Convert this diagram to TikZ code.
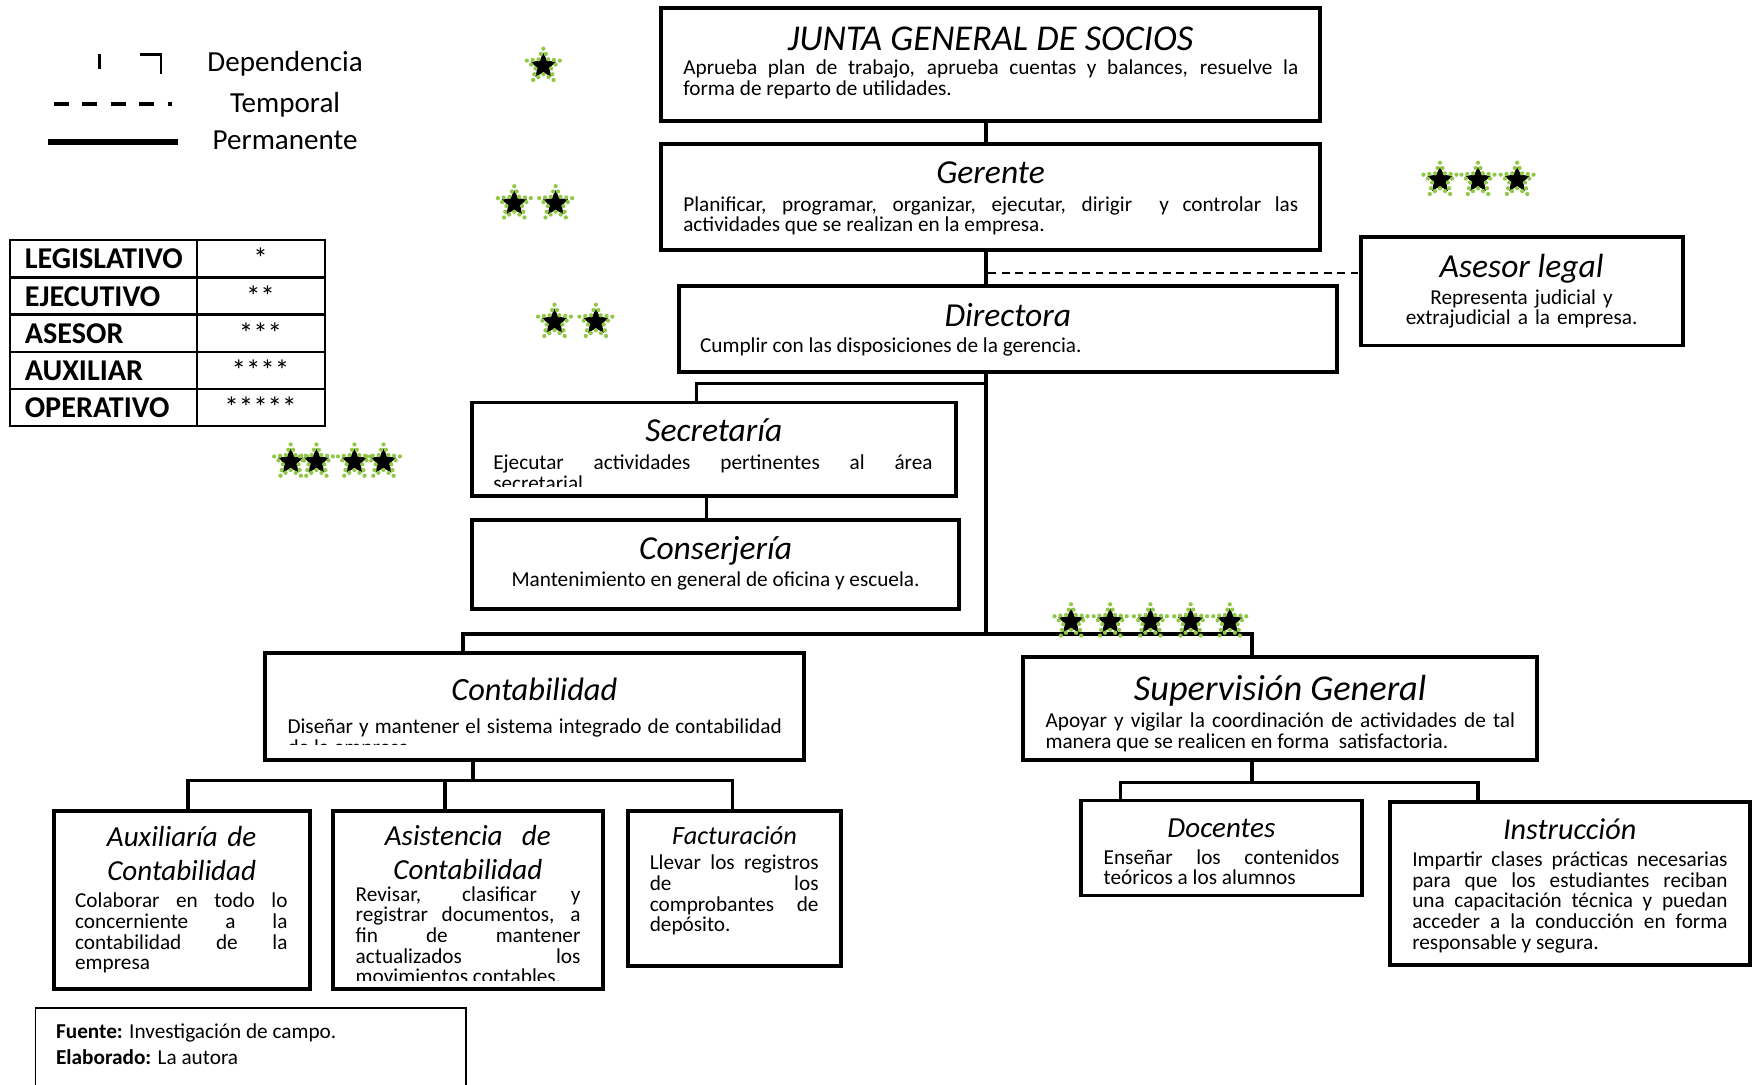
\documentclass[tikz,border=0pt]{standalone}
\usepackage{fontspec}
\setmainfont{Carlito}
\usetikzlibrary{positioning,shapes.geometric,calc}

\definecolor{starGreen}{RGB}{146,200,72}

\def\bodyFont{\fontsize{19}{18.5}\selectfont}
\def\legendFont{\fontsize{26}{27}\selectfont}
\def\boxLine{3.5pt}
\def\linkLine{3pt}
\def\rowHeight{33.2}

\hyphenpenalty=10000
\exhyphenpenalty=10000
\tolerance=10000
\hbadness=10000

\tikzset{
  frame/.style = {draw, line width=\boxLine, inner sep=0pt, outer sep=0pt},
  title/.style = {anchor=base, inner sep=0pt, align=center,
                  font=\fontsize{#1}{31}\selectfont\itshape},
  title/.default = 30,
  body/.style = {anchor=base west, inner sep=0pt, align=justify,
                 text width=#1, font=\bodyFont},
  bodyc/.style = {anchor=base, inner sep=0pt, align=center, font=\bodyFont},
  link/.style = {line width=\linkLine},
  templink/.style = {line width=1.5pt, dash pattern=on 7pt off 5pt},
  legendtext/.style = {anchor=base, inner sep=0pt, font=\legendFont},
  rankname/.style = {anchor=base west, inner sep=0pt, font=\fontsize{27}{27}\selectfont\bfseries},
  rankmark/.style = {anchor=base, inner sep=0pt, font=\legendFont},
  rankstar/.style = {star, star points=5, star point ratio=2.1,
                     minimum size=24pt, inner sep=0pt, fill=black},
  starhalo/.style = {star, star points=5, star point ratio=2.1,
                     minimum size=30pt, inner sep=0pt},
}

% black star ringed with green dots
\newcommand\rankStar[2]{%
  \node[rankstar] (#1) at (#2) {};
  \node[starhalo] (#1h) at (#2) {};
  \foreach \k in {1,...,5} {
    \pgfmathtruncatemacro\nk{mod(\k,5)+1}
    \fill[starGreen] (#1h.outer point \k) circle (1.9)
      (#1h.inner point \k) circle (1.9)
      ($(#1h.outer point \k)!0.5!(#1h.inner point \k)$) circle (1.9)
      ($(#1h.inner point \k)!0.5!(#1h.outer point \nk)$) circle (1.9);
  }
}

\begin{document}
\begin{tikzpicture}[x=1pt, y=-1pt]
  \path[use as bounding box, fill=white] (0,0) rectangle (1568,970);

  % legend
  \draw[line width=2.5pt] (89,48) -- (89,62);
  \draw[line width=2.5pt] (125,49) -- (144,49) -- (144,66);
  \draw[line width=3pt, dash pattern=on 13.5pt off 12pt] (48,93) -- (154,93);
  \draw[line width=6pt] (43,127) -- (159,127);
  \node[legendtext] (depText) at (255,64) {Dependencia};
  \node[legendtext] (tempText) at (255,101) {Temporal};
  \node[legendtext] (permText) at (255,134) {Permanente};

  \draw[line width=2pt] (9,215) rectangle (291,381);
  \draw[line width=2pt] (176,215) -- (176,381);
  \foreach \k in {1,...,4}
    \draw[line width=2pt] (9,215+\rowHeight*\k) -- (291,215+\rowHeight*\k);
  \foreach \lvl/\marks [count=\i] in {LEGISLATIVO/*, EJECUTIVO/**,
      ASESOR/***, AUXILIAR/****, OPERATIVO/*****} {
    \node[rankname] (rank\i) at (22,215+\rowHeight*\i-\rowHeight/2+9) {\lvl};
    \node[rankmark] (mark\i) at (233,215+\rowHeight*\i-\rowHeight/2+9) {\marks};
  }

  % boxes
  \node[frame, minimum width=590pt, minimum height=101pt] (junta) at (886,57.5) {};
  \node[title=32.5] (juntaT) at ([yshift=-38pt]junta.north) {JUNTA GENERAL DE SOCIOS};
  \node[body=550pt] (juntaB) at ([xshift=20pt,yshift=-60pt]junta.north west)
    {Aprueba plan de trabajo, aprueba cuentas y balances, resuelve la\linebreak
     forma de reparto de utilidades.};

  \node[frame, minimum width=590pt, minimum height=95pt] (gerente) at (886,176.5) {};
  \node[title] (gerenteT) at ([yshift=-35pt]gerente.north) {Gerente};
  \node[body=550pt] (gerenteB) at ([xshift=20pt,yshift=-60pt]gerente.north west)
    {Planificar, programar, organizar, ejecutar, dirigir \ y controlar las\linebreak
     actividades que se realizan en la empresa.};

  \node[frame, minimum width=589pt, minimum height=77pt] (directora) at (901.5,294.5) {};
  \node[title] (directoraT) at ([yshift=-36pt]directora.north) {Directora};
  \node[bodyc, anchor=base west] (directoraB) at ([xshift=19pt,yshift=-59pt]directora.north west)
    {Cumplir con las disposiciones de la gerencia.};

  \node[frame, minimum width=288pt, minimum height=97pt] (asesor) at (1361,260.5) {};
  \node[title] (asesorT) at ([yshift=-36pt]asesor.north) {Asesor legal};
  \node[bodyc, text width=260pt] (asesorB) at ([yshift=-60pt]asesor.north)
    {Representa judicial y\\extrajudicial a la empresa.};

  \node[frame, minimum width=433pt, minimum height=84pt] (secretaria) at (638.5,402) {};
  \node[title] (secretariaT) at ([yshift=-35pt]secretaria.north) {Secretaría};
  \begin{scope}
    \clip (secretaria.north west) rectangle (855,435);
    \node[body=393pt] (secretariaB) at ([xshift=19pt,yshift=-60pt]secretaria.north west)
      {Ejecutar actividades pertinentes al área\linebreak secretarial};
  \end{scope}

  \node[frame, minimum width=436pt, minimum height=80pt] (conserjeria) at (640,505) {};
  \node[title] (conserjeriaT) at ([yshift=-35pt]conserjeria.north) {Conserjería};
  \node[bodyc] (conserjeriaB) at ([yshift=-60pt]conserjeria.north)
    {Mantenimiento en general de oficina y escuela.};

  \node[frame, minimum width=482pt, minimum height=96pt] (contabilidad) at (478,632) {};
  \node[title=29] (contabilidadT) at ([yshift=-43pt]contabilidad.north) {Contabilidad};
  \begin{scope}
    \clip (contabilidad.north west) rectangle (719,666);
    \node[body=442pt] (contabilidadB) at ([xshift=20pt,yshift=-72pt]contabilidad.north west)
      {Diseñar y mantener el sistema integrado de contabilidad\linebreak de la empresa};
  \end{scope}

  \node[frame, minimum width=460pt, minimum height=92pt] (supervision) at (1145,634) {};
  \node[title=32.5] (supervisionT) at ([yshift=-39pt]supervision.north) {Supervisión General};
  \node[body=420pt] (supervisionB) at ([xshift=20pt,yshift=-63pt]supervision.north west)
    {Apoyar y vigilar la coordinación de actividades de tal\linebreak
     manera que se realicen en forma \ satisfactoria.};

  \node[frame, minimum width=229pt, minimum height=160pt] (auxiliaria) at (162.5,805) {};
  \node[title=26, text width=209pt] (auxiliariaT) at ([yshift=-32pt]auxiliaria.north)
    {Auxiliaría de\\Contabilidad};
  \node[body=190pt] (auxiliariaB) at ([xshift=19pt,yshift=-87pt]auxiliaria.north west)
    {Colaborar en todo lo\linebreak concerniente a la\linebreak
     contabilidad de la\linebreak empresa};

  \node[frame, minimum width=241pt, minimum height=160pt] (asistencia) at (418.5,805) {};
  \node[title=26, text width=221pt] (asistenciaT) at ([yshift=-31pt]asistencia.north)
    {Asistencia \ de\\Contabilidad};
  \begin{scope}
    \clip (asistencia.north west) rectangle (539,877);
    \node[body=201pt] (asistenciaB) at ([xshift=20pt,yshift=-81pt]asistencia.north west)
      {Revisar, clasificar y\linebreak registrar documentos, a\linebreak
       fin de mantener\linebreak actualizados los\linebreak movimientos contables.};
  \end{scope}

  \node[frame, minimum width=190pt, minimum height=139pt] (facturacion) at (657,794.5) {};
  \node[title=23.5] (facturacionT) at ([yshift=-30pt]facturacion.north) {Facturación};
  \node[body=151pt] (facturacionB) at ([xshift=19pt,yshift=-53pt]facturacion.north west)
    {Llevar los registros\linebreak de los\linebreak comprobantes de\linebreak depósito.};

  \node[frame, minimum width=251pt, minimum height=85pt] (docentes) at (1092.5,758.5) {};
  \node[title=26] (docentesT) at ([yshift=-33pt]docentes.north) {Docentes};
  \node[body=211pt] (docentesB) at ([xshift=20pt,yshift=-57pt]docentes.north west)
    {Enseñar los contenidos\linebreak teóricos a los alumnos};

  \node[frame, minimum width=322pt, minimum height=146pt] (instruccion) at (1404,790) {};
  \node[title=27] (instruccionT) at ([yshift=-34pt]instruccion.north) {Instrucción};
  \node[body=282pt] (instruccionB) at ([xshift=20pt,yshift=-58pt]instruccion.north west)
    {Impartir clases prácticas necesarias\linebreak para que los estudiantes reciban\linebreak
     una capacitación técnica y puedan\linebreak acceder a la conducción en forma\linebreak
     responsable y segura.};

  \node[draw, line width=1.5pt, minimum width=385pt, minimum height=120pt,
        anchor=north west, inner sep=0pt] (fuente) at (31,901) {};
  \node[bodyc, anchor=base west] (fuenteA) at (50,929) {\textbf{Fuente:} Investigación de campo.};
  \node[bodyc, anchor=base west] (fuenteB) at (50,952) {\textbf{Elaborado:} La autora};

  % connectors
  \coordinate (trunk) at (882,567);
  \draw[link] (junta.south -| trunk) -- (gerente.north -| trunk);
  \draw[link] (gerente.south -| trunk) -- (directora.north -| trunk);
  \draw[link] (directora.south -| trunk) -- (trunk);
  \coordinate (tempLink) at (884,244);
  \draw[templink] (tempLink) -- (tempLink -| asesor.west);

  \coordinate (secFork) at (623,343);
  \draw[link] (secretaria.north -| secFork) -- (secFork) -- (secFork -| trunk);
  \draw[link] ([xshift=-6.5pt]secretaria.south) -- ([xshift=-6.5pt]secretaria.south |- conserjeria.north);

  \coordinate (leftDrop) at (414,567);
  \coordinate (rightDrop) at (1120,567);
  \draw[link] (contabilidad.north -| leftDrop) -- (leftDrop) -- (rightDrop)
    -- (supervision.north -| rightDrop);

  \coordinate (contFork) at (423,698);
  \coordinate (auxDrop) at (168,698);
  \coordinate (asiDrop) at (398,698);
  \coordinate (facDrop) at (655,698);
  \draw[link] (contabilidad.south -| contFork) -- (contFork);
  \draw[link] (auxiliaria.north -| auxDrop) -- (auxDrop) -- (facDrop)
    -- (facturacion.north -| facDrop);
  \draw[link] (asiDrop) -- (asistencia.north -| asiDrop);

  \coordinate (supFork) at (1120,700);
  \coordinate (docDrop) at (1002,700);
  \coordinate (insDrop) at (1322,700);
  \draw[link] (supervision.south -| supFork) -- (supFork);
  \draw[link] (docentes.north -| docDrop) -- (docDrop) -- (insDrop)
    -- (instruccion.north -| insDrop);

  % stars
  \rankStar{legStar}{486,59}
  \foreach \x [count=\i] in {460,497} {\rankStar{ejeStar\i}{\x,182}}
  \foreach \x [count=\i] in {496,533} {\rankStar{dirStar\i}{\x,288}}
  \foreach \x [count=\i] in {1288,1322,1357} {\rankStar{aseStar\i}{\x,161}}
  \foreach \x [count=\i] in {260,283,317,343} {\rankStar{auxStar\i}{\x,413}}
  \foreach \x [count=\i] in {958,993,1029,1065,1100} {\rankStar{opeStar\i}{\x,556}}
\end{tikzpicture}
\end{document}
